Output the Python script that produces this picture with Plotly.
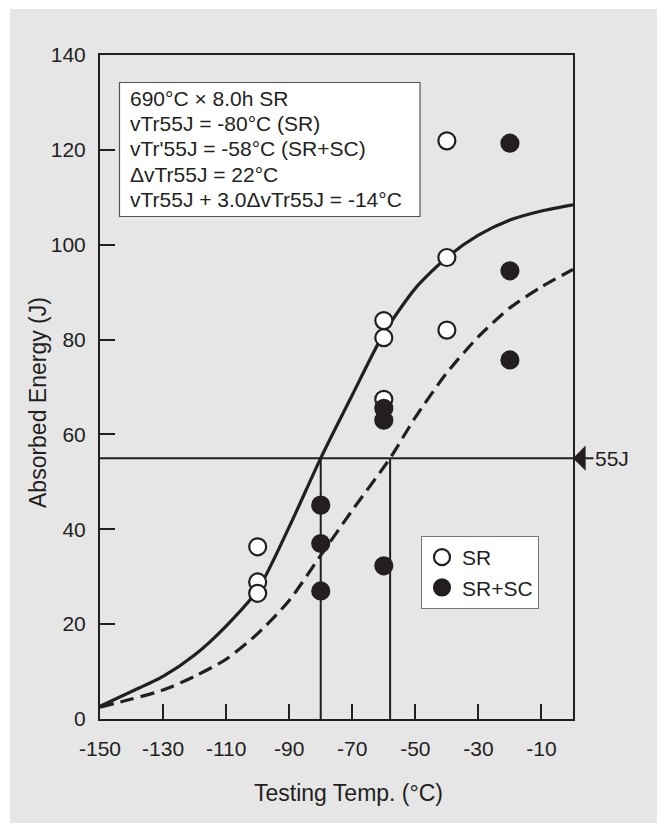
import plotly.graph_objects as go

# Charpy impact test results (absorbed energy vs testing temperature)
temps_sr = [-100, -100, -100, -60, -60, -60, -40, -40, -40]
energy_sr = [36.3, 28.9, 26.5, 84.0, 80.4, 67.4, 121.9, 97.3, 82.0]

temps_srsc = [-80, -80, -80, -60, -60, -60, -20, -20, -20]
energy_srsc = [45.1, 37.0, 27.0, 65.5, 63.0, 32.3, 121.4, 94.5, 75.7]

# Fitted transition curves
curve_t_sr = [-150, -140, -130, -120, -110, -100, -90, -80, -70, -60, -50, -40, -30, -20, -10, 0]
curve_e_sr = [2.7, 5.8, 9.0, 13.5, 19.6, 27.2, 40.5, 55.0, 68.3, 81.3, 90.8, 97.3, 102.0, 105.2, 107.1, 108.4]

curve_t_srsc = [-150, -140, -130, -120, -110, -100, -90, -80, -70, -58, -50, -40, -30, -20, -10, 0]
curve_e_srsc = [2.5, 4.2, 6.1, 9.0, 12.6, 18.0, 25.0, 34.5, 44.0, 55.0, 63.6, 73.0, 80.6, 86.7, 91.1, 94.8]

# Transition criterion and transition temperatures
level_j = 55
vtr_sr = -80
vtr_srsc = -58
x_range = [-150, 0]
y_range = [0, 140]

x_ticks = [-150, -130, -110, -90, -70, -50, -30, -10]
x_tick_text = ["-150", "-130", "-110", "-90", "-70", "-50", "-30", "-10"]
y_ticks = [0, 20, 40, 60, 80, 100, 120, 140]

info_lines = [
    "690°C × 8.0h SR",
    "vTr55J = -80°C (SR)",
    "vTr'55J = -58°C (SR+SC)",
    "ΔvTr55J = 22°C",
    "vTr55J + 3.0ΔvTr55J = -14°C",
]

INK = "#231f20"
BG = "#e6e6e6"
FONT = "Liberation Sans, Arial, sans-serif"

W, H = 662, 823
ML, MR, MT, MB = 100, 89, 55, 104
PW, PH = W - ML - MR, H - MT - MB


def px(x):
    return (x - ML) / PW


def py(y):
    return (H - MB - y) / PH


fig = go.Figure()

# reference lines at 55 J
fig.add_trace(go.Scatter(x=x_range, y=[level_j, level_j], mode="lines",
                         line=dict(color=INK, width=2), showlegend=False, hoverinfo="skip"))
for t in (vtr_sr, vtr_srsc):
    fig.add_trace(go.Scatter(x=[t, t], y=[0, level_j], mode="lines",
                             line=dict(color=INK, width=2), showlegend=False, hoverinfo="skip"))

fig.add_trace(go.Scatter(x=curve_t_sr, y=curve_e_sr, mode="lines",
                         line=dict(color=INK, width=3.2, shape="spline", smoothing=0.7),
                         showlegend=False, hoverinfo="skip"))
fig.add_trace(go.Scatter(x=curve_t_srsc, y=curve_e_srsc, mode="lines",
                         line=dict(color=INK, width=3.2, shape="spline", smoothing=0.7, dash="14px,7px"),
                         showlegend=False, hoverinfo="skip"))

fig.add_trace(go.Scatter(x=temps_sr, y=energy_sr, mode="markers", name="SR",
                         marker=dict(symbol="circle", size=17, color="white",
                                     line=dict(color=INK, width=2.2))))
fig.add_trace(go.Scatter(x=temps_srsc, y=energy_srsc, mode="markers", name="SR+SC",
                         marker=dict(symbol="circle", size=17, color=INK,
                                     line=dict(color=INK, width=2.2))))

shapes = [
    # grey panel behind the whole chart
    dict(type="rect", xref="paper", yref="paper", layer="below",
         x0=px(10), x1=px(657), y0=py(840), y1=py(9),
         fillcolor=BG, line=dict(width=0)),
    # info box
    dict(type="rect", xref="paper", yref="paper", layer="above",
         x0=px(119.5), x1=px(420), y0=py(216.5), y1=py(82.5),
         fillcolor="white", line=dict(color="#555555", width=1.2)),
]

annotations = []
for i, line in enumerate(info_lines):
    annotations.append(dict(xref="paper", yref="paper", x=px(128), y=py(98.5 + 25.2 * i),
                            xanchor="left", yanchor="middle", showarrow=False, text=line,
                            font=dict(family=FONT, size=21, color=INK)))

# 55 J marker with arrow
annotations.append(dict(x=x_range[1], y=level_j, xref="x", yref="y", text=f"{level_j}J",
                        showarrow=True, arrowhead=1, arrowsize=2.1, arrowwidth=2,
                        arrowcolor=INK, ax=39, ay=0, standoff=0,
                        font=dict(family=FONT, size=21, color=INK)))

# axis titles
annotations.append(dict(xref="paper", yref="paper", x=px(348), y=py(793), showarrow=False,
                        text="Testing Temp. (°C)", xanchor="center", yanchor="middle",
                        font=dict(family=FONT, size=23, color=INK)))
annotations.append(dict(xref="paper", yref="paper", x=px(38), y=py(403), showarrow=False,
                        text="Absorbed Energy (J)", textangle=-90, xanchor="center", yanchor="middle",
                        font=dict(family=FONT, size=23, color=INK)))

axis_common = dict(showgrid=False, zeroline=False, showline=True, mirror=True,
                   linecolor=INK, linewidth=2, ticks="inside", ticklen=15, tickwidth=2,
                   tickcolor=INK, tickfont=dict(family=FONT, size=21, color=INK))

fig.update_layout(
    width=W, height=H, autosize=False,
    margin=dict(l=ML, r=MR, t=MT, b=MB, pad=0),
    paper_bgcolor="white", plot_bgcolor=BG,
    font=dict(family=FONT, color=INK),
    xaxis=dict(range=x_range, tickvals=x_ticks, ticktext=x_tick_text,
               ticklabelstandoff=10, **axis_common),
    yaxis=dict(range=y_range, tickvals=y_ticks, ticklabelstandoff=8, **axis_common),
    shapes=shapes,
    annotations=annotations,
    legend=dict(x=px(421), y=py(536), xanchor="left", yanchor="top",
                bgcolor="white", bordercolor="#777777", borderwidth=1,
                font=dict(family=FONT, size=21, color=INK), itemsizing="trace",
                tracegroupgap=0),
)

fig.write_html("out.html")
